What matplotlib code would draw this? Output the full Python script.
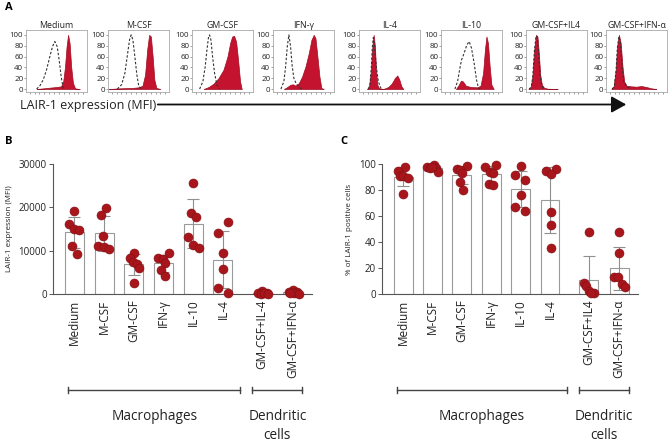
import numpy as np
import matplotlib
matplotlib.use("Agg")
import matplotlib.pyplot as plt
from matplotlib.transforms import blended_transform_factory

plt.rcParams['font.family'] = ['Open Sans', 'DejaVu Sans']

# ---------------- data ----------------
HIST_TITLES = ["Medium", "M-CSF", "GM-CSF", "IFN-\u03b3", "IL-4", "IL-10",
               "GM-CSF+IL4", "GM-CSF+IFN-\u03b1"]

# red (LAIR-1) histogram outlines, x in % of log-MFI range, y in % of max
RED_X = [
    [17.4, 28.3, 39.1, 50.0, 57.5, 61.0, 64.0, 66.5, 69.0, 71.5, 74.0, 77.0, 80.5, 88.0],
    [1.6, 17.9, 39.7, 50.5, 56.5, 60.8, 64.2, 67.4, 70.3, 73.2, 76.0, 79.3, 85.9],
    [19.0, 27.2, 35.3, 43.5, 51.6, 58.2, 62.5, 65.8, 69.0, 72.3, 75.5, 78.8, 81.5],
    [17.9, 23.4, 28.8, 33.2, 37.0, 42.4, 47.8, 53.3, 58.7, 63.0, 66.8, 69.6, 72.8, 76.1, 79.3, 83.2],
    [13.0, 16.4, 19.3, 21.6, 24.0, 26.0, 27.8, 30.0, 32.7, 39.9, 48.1, 53.6, 59.0, 62.8, 66.1, 69.4, 72.7],
    [24.5, 28.3, 32.6, 35.9, 40.8, 48.9, 59.8, 64.8, 69.0, 72.0, 74.5, 77.0, 79.8, 82.6, 86.4],
    [4.0, 7.8, 10.6, 13.5, 16.4, 18.8, 21.0, 23.3, 26.0, 29.5, 35.5, 51.9],
    [8.8, 12.6, 16.0, 18.3, 21.2, 24.1, 27.0, 29.8, 33.7, 41.8, 50.0, 58.2, 66.3, 74.5, 82.6],
]
RED_Y = [
    [0, 1.2, 2.5, 3.7, 4.9, 14.1, 41.7, 78.5, 100, 84.7, 41.7, 11.0, 1.2, 0],
    [0, 1.2, 2.0, 3.2, 6.1, 26.4, 72.0, 100, 97.0, 60.0, 17.0, 2.0, 0],
    [0, 3.7, 9.8, 20.2, 35.6, 60.1, 84.7, 96.9, 98.2, 87.7, 54.0, 14.1, 0],
    [0, 3.7, 8.0, 8.6, 6.1, 11.0, 23.3, 41.7, 66.3, 90.8, 100, 93.9, 60.1, 23.3, 1.8, 0],
    [0, 3.8, 30.0, 73.8, 100, 80.0, 36.3, 8.1, 1.3, 0, 3.8, 10.0, 20.6, 25.0, 17.5, 5.0, 0],
    [0, 6.1, 15.3, 14.1, 6.1, 3.7, 3.1, 6.1, 29.4, 72.4, 97.0, 84.7, 41.7, 8.0, 0],
    [0, 3.7, 23.3, 72.4, 100, 97.0, 66.3, 26.4, 8.0, 2.5, 0.6, 0],
    [0, 4.9, 35.6, 78.5, 100, 84.7, 41.7, 14.1, 6.1, 4.9, 4.3, 5.5, 3.7, 1.2, 0],
]
# dashed (isotype control) histogram outlines
DASH_X = [
    [17.4, 22.8, 28.3, 33.7, 39.1, 43.5, 47.3, 51.1, 54.3, 57.6, 60.9, 63.6],
    [15.2, 22.3, 27.7, 31.5, 35.3, 38.0, 40.8, 44.0, 47.3, 50.5, 54.9],
    [12.5, 17.9, 21.7, 24.5, 27.2, 28.8, 31.0, 33.7, 37.0, 40.8, 45.1],
    [13.0, 17.9, 20.7, 23.4, 26.1, 28.8, 31.5, 34.2, 38.0, 42.4, 46.7],
    [15.3, 18.0, 20.2, 21.9, 23.5, 25.7, 28.4, 31.7, 35.5, 38.8],
    [22.8, 27.2, 31.0, 33.7, 38.0, 42.4, 46.2, 50.0, 54.3, 58.2, 61.4, 64.1],
    [5.0, 8.5, 11.0, 13.8, 16.4, 18.6, 20.8, 23.0, 25.7, 29.0],
    [10.0, 13.5, 16.5, 18.6, 21.2, 23.9, 26.6, 29.3, 33.7, 40.0],
]
DASH_Y = [
    [0, 6.1, 17.2, 35.6, 60.1, 78.5, 87.7, 78.5, 54.0, 23.3, 1.8, 0],
    [0, 8.0, 29.4, 60.1, 90.8, 100, 90.8, 60.1, 26.4, 4.9, 0],
    [0, 14.1, 41.7, 72.4, 96.9, 100, 90.8, 60.1, 29.4, 8.0, 0],
    [0, 14.1, 41.7, 78.5, 100, 78.5, 41.7, 20.2, 9.8, 3.7, 0],
    [0, 8.1, 40.6, 78.0, 95.0, 78.0, 40.6, 14.0, 2.0, 0],
    [0, 14.1, 38.7, 54.0, 66.3, 81.6, 87.7, 75.5, 47.8, 17.2, 1.8, 0],
    [0, 3.0, 22.0, 70.0, 98.0, 95.0, 64.0, 25.0, 7.0, 0],
    [0, 4.0, 34.0, 76.0, 97.0, 82.0, 40.0, 13.0, 5.0, 0],
]

CATEGORIES_B = ["Medium", "M-CSF", "GM-CSF", "IFN-\u03b3", "IL-10", "IL-4",
                "GM-CSF+IL-4", "GM-CSF+IFN-\u03b1"]
CATEGORIES_C = ["Medium", "M-CSF", "GM-CSF", "IFN-\u03b3", "IL-10", "IL-4",
                "GM-CSF+IL4", "GM-CSF+IFN-\u03b1"]

MFI_VALUES = [
    [19150, 16080, 14920, 14850, 11080, 9160],
    [19770, 18230, 13390, 11160, 10920, 10310],
    [9540, 8230, 7460, 6920, 6080, 2620],
    [9380, 8230, 8080, 7080, 5540, 4150],
    [25700, 18620, 17850, 13230, 11230, 10690],
    [16540, 14000, 9540, 5690, 1460, 310],
    [800, 300, 150, 100, 250, 50],
    [900, 500, 350, 300, 200, 100],
]
PCT_VALUES = [
    [97.9, 94.9, 90.8, 91.0, 89.5, 76.9],
    [98.0, 99.5, 96.7, 94.2, 97.0, 97.5],
    [98.5, 96.0, 95.4, 92.8, 86.4, 80.0],
    [99.2, 97.4, 94.1, 92.8, 84.6, 83.6],
    [98.5, 91.3, 87.7, 75.9, 67.2, 63.8],
    [95.9, 94.4, 92.1, 63.3, 53.1, 35.1],
    [47.9, 8.7, 6.2, 2.3, 0.5, 1.0],
    [47.9, 31.3, 13.3, 12.8, 7.7, 5.6],
]
GROUPS = ["Macrophages", "Dendritic\ncells"]

# ---------------- layout / style ----------------
W, H = 669, 445
fig = plt.figure(figsize=(W / 100, H / 100), dpi=100)

RED = '#C4132E'
DOT = '#A8161C'
DOT_EDGE = '#7E0F13'


def rect(l, t, r, b):
    return [l / W, 1 - b / H, (r - l) / W, (b - t) / H]


# ---- panel A ----
hist_lefts = [26, 108, 192, 273, 359, 441, 526, 606]
for i, title in enumerate(HIST_TITLES):
    ax = fig.add_axes(rect(hist_lefts[i], 30, hist_lefts[i] + 61, 92))
    ax.fill_between(RED_X[i], RED_Y[i], 0, color=RED, lw=0.5, edgecolor='#9c0e22', zorder=2)
    ax.plot(DASH_X[i], DASH_Y[i], color='#333333', lw=0.8, ls=(0, (2.2, 1.6)), zorder=3)
    ax.set_xlim(0, 100)
    ax.set_ylim(-5.5, 109)
    ax.set_yticks([0, 20, 40, 60, 80, 100])
    ax.set_yticklabels(['0', '20', '40', '60', '80', '100'], fontsize=5.7, color='#222222')
    ax.tick_params(axis='y', length=1.5, width=0.4, pad=0.5, color='#555555')
    ax.set_xticks(np.arange(6, 100, 8))
    ax.set_xticklabels([])
    ax.tick_params(axis='x', length=1.2, width=0.4, color='#555555', direction='out')
    for s in ax.spines.values():
        s.set_color('#a8a8a8')
        s.set_linewidth(0.6)
    ax.set_title(title, fontsize=6.3, pad=1.5, color='#222222')

fig.text(5 / W, 1 - 8 / H, "A", fontsize=8, fontweight='bold', va='center', ha='left')
fig.text(20 / W, 1 - 105 / H, "LAIR-1 expression (MFI)", fontsize=9, va='center', ha='left',
         color='#222222')
fig.add_artist(matplotlib.patches.FancyArrowPatch(
    (155 / W, 1 - 104.5 / H), (629 / W, 1 - 104.5 / H), transform=fig.transFigure,
    arrowstyle='-|>,head_length=0.9,head_width=0.5', mutation_scale=10,
    color='#111111', lw=1.3))

# ---- panels B and C ----
POS = [0, 1, 2, 3, 4, 5, 6.32, 7.36]
JIT_B = [
    [0.0, -0.17, 0.0, 0.17, -0.08, 0.09],
    [0.05, -0.1, -0.03, -0.19, -0.01, 0.16],
    [0.02, -0.12, -0.03, 0.1, 0.19, 0.02],
    [0.18, -0.17, 0.0, 0.05, -0.07, 0.05],
    [0.0, -0.09, 0.1, -0.18, 0.0, 0.18],
    [0.17, -0.15, 0.0, 0.0, -0.15, 0.17],
    [0.0, -0.15, 0.15, -0.05, 0.08, 0.2],
    [0.0, -0.15, 0.15, 0.05, -0.1, 0.2],
]
JIT_C = [
    [0.08, -0.18, -0.09, 0.0, 0.15, 0.0],
    [-0.19, 0.05, 0.12, 0.18, -0.07, 0.0],
    [0.16, -0.18, -0.08, 0.0, -0.08, 0.03],
    [0.16, -0.2, -0.03, 0.05, -0.09, 0.05],
    [0.0, -0.18, 0.16, 0.0, -0.18, 0.16],
    [0.19, -0.15, 0.02, 0.02, 0.02, 0.02],
    [0.0, -0.17, -0.09, 0.02, 0.17, 0.08],
    [0.0, 0.0, -0.18, -0.03, 0.08, 0.19],
]


def bar_panel(ax_rect, values, jit, cats, ylim, yticks, ylabel, letter, letter_x):
    ax = fig.add_axes(ax_rect)
    means = [np.mean(v) for v in values]
    sds = [np.std(v, ddof=1) for v in values]
    ax.bar(POS, means, width=0.64, color='white', edgecolor='#9a9a9a', lw=0.8, zorder=1)
    ax.errorbar(POS, means, yerr=sds, fmt='none', ecolor='#8f8f8f', elinewidth=0.8,
                capsize=4.5, capthick=0.8, zorder=2)
    for p, v, j in zip(POS, values, jit):
        ax.scatter(np.array(j) + p, v, s=42, color=DOT, edgecolor=DOT_EDGE, lw=0.4,
                   zorder=3, clip_on=False)
    ax.set_xlim(-0.72, 8.0)
    ax.set_ylim(*ylim)
    ax.set_yticks(yticks)
    ax.set_yticklabels([str(t) for t in yticks], fontsize=7, color='#222222')
    ax.tick_params(axis='y', length=3, width=0.7, color='#555555', pad=1.5)
    ax.set_xticks(POS)
    ax.set_xticklabels(cats, rotation=90, fontsize=8.5, va='top', ha='center', color='#222222')
    ax.tick_params(axis='x', length=0, pad=4)
    for s in ['top', 'right']:
        ax.spines[s].set_visible(False)
    for s in ['left', 'bottom']:
        ax.spines[s].set_color('#555555')
        ax.spines[s].set_linewidth(0.8)
    ax.set_ylabel(ylabel, fontsize=5.8, color='#222222', labelpad=4)
    fig.text(letter_x / W, 1 - 141 / H, letter, fontsize=8, fontweight='bold',
             va='center', ha='left')
    tr = blended_transform_factory(ax.transData, fig.transFigure)
    yb = 1 - 390 / H
    cap = 3 / H
    for (x0, x1), g in zip([(-0.2, 5.58), (5.99, 7.68)], GROUPS):
        ax.plot([x0, x1], [yb, yb], color='#444444', lw=1.0, transform=tr, clip_on=False)
        for xx in (x0, x1):
            ax.plot([xx, xx], [yb - cap, yb + cap], color='#444444', lw=1.0,
                    transform=tr, clip_on=False)
        ax.text((x0 + x1) / 2, 1 - 409 / H, g, transform=tr, ha='center', va='top',
                fontsize=9.8, color='#222222', linespacing=1.35)
    return ax


bar_panel(rect(53, 164, 312, 294), MFI_VALUES, JIT_B, CATEGORIES_B, (0, 30000),
          [0, 10000, 20000, 30000], "LAIR-1 expression (MFI)", "B", 5)
bar_panel(rect(382, 164, 638, 294), PCT_VALUES, JIT_C, CATEGORIES_C, (0, 100),
          [0, 20, 40, 60, 80, 100], "% of LAIR-1 positive cells", "C", 340)

fig.savefig("out.png", dpi=100)
